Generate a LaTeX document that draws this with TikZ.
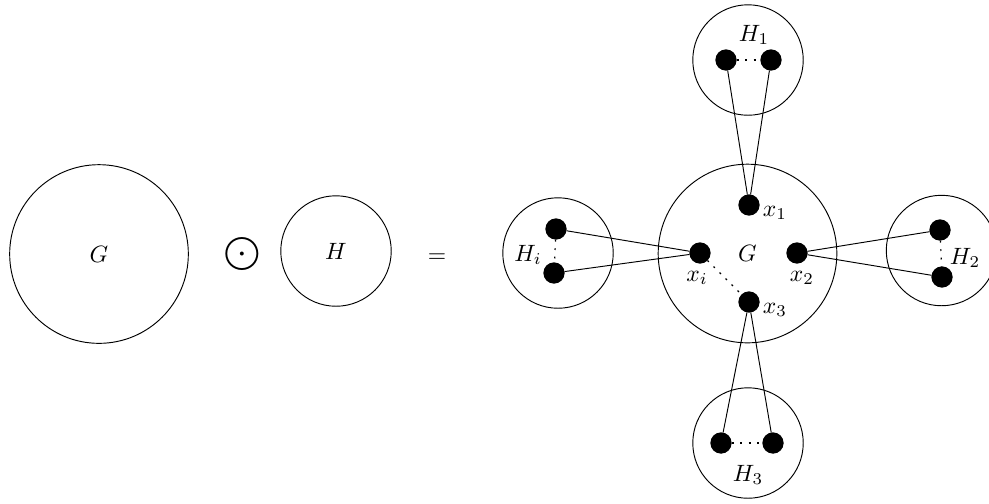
\documentclass[tikz,border=0pt]{standalone}

\tikzset{
  bigset/.style={draw,circle,minimum size=75.7pt,inner sep=0pt},
  smallset/.style={draw,circle,minimum size=46.8pt,inner sep=0pt},
  vertex/.style={draw,fill=black,circle,minimum size=8.6pt,inner sep=0pt},
  gap/.style={line width=0.5pt,dash pattern=on 0.8pt off 2.8pt}
}

\begin{document}
\begin{tikzpicture}[x=0.0149cm,y=-0.0149cm]
  \useasboundingbox (0,0) rectangle (989,503);
  % G (.) H =
  \node[bigset]   (G)   at (99,254)  {$G$};
  \node           (op)  at (242,254) {$\displaystyle\bigodot$};
  \node[smallset] (H)   at (336,251) {$H$};
  \node           (eq)  at (437,258) {$=$};
  % the corona
  \node[bigset]   (G1)  at (747.5,253.5) {$G$};
  \node[vertex]   (x1)  at (749,205) {};
  \node[vertex]   (xi)  at (700,253) {};
  \node[vertex]   (x2)  at (797,253) {};
  \node[vertex]   (x3)  at (749,302) {};
  \node           (lx1) at (775,213) {$x_1$};
  \node           (lxi) at (697,278) {$x_i$};
  \node           (lx2) at (802,278) {$x_2$};
  \node           (lx3) at (775,310) {$x_3$};
  \draw[gap] (xi) -- (x3);
  % copies of H
  \node[smallset] (H1)  at (748,60)      {};
  \node[smallset] (H2)  at (941.5,250.5) {};
  \node[smallset] (H3)  at (748,443)     {};
  \node[smallset] (Hi)  at (558,253)     {};
  \node           (lH1) at (754,35)  {$H_1$};
  \node           (lH2) at (965,258) {$H_2$};
  \node           (lH3) at (748,475) {$H_3$};
  \node           (lHi) at (528,255) {$H_i$};
  \node[vertex]   (h1a) at (726,60)  {};
  \node[vertex]   (h1b) at (771,60)  {};
  \node[vertex]   (h2a) at (940,230) {};
  \node[vertex]   (h2b) at (942,277) {};
  \node[vertex]   (h3a) at (721,443) {};
  \node[vertex]   (h3b) at (773,443) {};
  \node[vertex]   (hia) at (556,229) {};
  \node[vertex]   (hib) at (554,273) {};
  \draw[gap] (h1a) -- (h1b);
  \draw[gap] (h2a) -- (h2b);
  \draw[gap] (h3a) -- (h3b);
  \draw[gap] (hia) -- (hib);
  \draw (h1a) -- (x1);
  \draw (h1b) -- (x1);
  \draw (h2a) -- (x2);
  \draw (h2b) -- (x2);
  \draw (h3a) -- (x3);
  \draw (h3b) -- (x3);
  \draw (hia) -- (xi);
  \draw (hib) -- (xi);
\end{tikzpicture}
\end{document}
